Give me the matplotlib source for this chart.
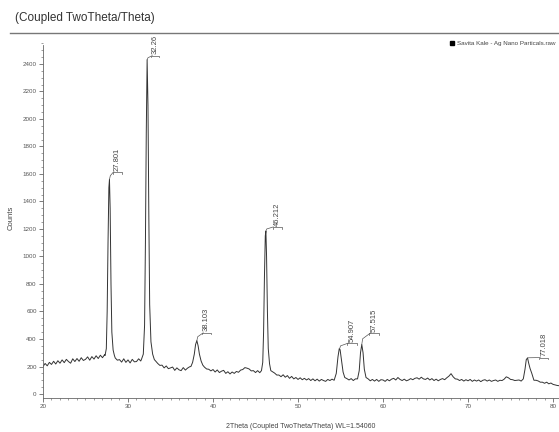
import numpy as np
import matplotlib
matplotlib.use("Agg")
import matplotlib.pyplot as plt
from matplotlib.lines import Line2D
from matplotlib.ticker import MultipleLocator

plt.rcParams['font.family'] = ['Liberation Sans', 'DejaVu Sans']

# Scan: 2theta from 20 deg in 0.25 deg steps, background counts
scan_start = 20.0
scan_step = 0.25
background = [
    200, 222, 205, 230,   # 20
    215, 238, 218, 242,   # 21
    224, 248, 228, 252,   # 22
    236, 224, 256, 236,   # 23
    258, 238, 264, 244,   # 24
    252, 270, 246, 272,   # 25
    254, 278, 258, 282,   # 26
    264, 286, 285, 290,   # 27
    285, 275, 262, 246,   # 28
    250, 232, 256, 230,   # 29
    248, 226, 252, 234,   # 30
    236, 256, 240, 250,   # 31
    255, 260, 260, 255,   # 32
    250, 240, 222, 208,   # 33
    210, 190, 204, 184,   # 34
    190, 196, 172, 190,   # 35
    176, 170, 192, 174,   # 36
    188, 198, 200, 210,   # 37
    215, 210, 205, 200,   # 38
    195, 182, 180, 168,   # 39
    178, 160, 175, 156,   # 40
    166, 172, 150, 162,   # 41
    146, 160, 150, 164,   # 42
    158, 174, 178, 192,   # 43
    188, 182, 168, 170,   # 44
    156, 170, 155, 165,   # 45
    170, 170, 168, 165,   # 46
    162, 152, 138, 138,   # 47
    126, 140, 122, 134,   # 48
    114, 128, 110, 120,   # 49
    106, 118, 104, 114,   # 50
    102, 112, 98, 110,    # 51
    96, 108, 94, 106,     # 52
    98, 92, 106, 98,      # 53
    108, 100, 105, 108,   # 54
    110, 112, 115, 112,   # 55
    102, 112, 98, 110,    # 56
    110, 112, 112, 110,   # 57
    112, 110, 96, 106,    # 58
    94, 106, 92, 104,     # 59
    102, 92, 106, 96,     # 60
    108, 114, 102, 120,   # 61
    106, 98, 108, 96,     # 62
    102, 112, 104, 114,   # 63
    118, 108, 122, 110,   # 64
    106, 116, 102, 112,   # 65
    98, 108, 96, 106,     # 66
    112, 104, 118, 130,   # 67
    148, 125, 110, 108,   # 68
    98, 106, 94, 104,     # 69
    96, 106, 92, 102,     # 70
    94, 102, 90, 100,     # 71
    104, 94, 102, 92,     # 72
    98, 102, 92, 100,     # 73
    98, 108, 125, 118,    # 74
    106, 104, 98, 100,    # 75
    102, 94, 100, 105,    # 76
    105, 105, 102, 100,   # 77
    100, 95, 86, 86,      # 78
    78, 86, 74, 80,       # 79
    70, 66, 62, 60,       # 80
]

# Reflections: (window start, window end), profile points
peak_windows = [(27.3, 28.4), (31.6, 33.1), (37.4, 39.0), (45.7, 46.8),
                (54.3, 55.5), (57.0, 58.0), (76.5, 77.7)]
peak_2theta = [
    27.3, 27.45, 27.55, 27.65, 27.75, 27.82, 27.9, 28.0, 28.1, 28.25, 28.4,
    31.6, 31.8, 31.95, 32.05, 32.15, 32.25, 32.35, 32.45, 32.55, 32.7, 32.9, 33.1,
    37.4, 37.6, 37.8, 37.95, 38.1, 38.25, 38.4, 38.6, 38.8, 39.0,
    45.7, 45.85, 45.95, 46.05, 46.15, 46.22, 46.3, 46.4, 46.5, 46.65, 46.8,
    54.3, 54.5, 54.7, 54.85, 54.95, 55.1, 55.3, 55.5,
    57.0, 57.2, 57.35, 57.5, 57.65, 57.8, 58.0,
    76.5, 76.7, 76.85, 77.0, 77.15, 77.3, 77.5, 77.7,
]
peak_counts = [
    280, 330, 600, 1100, 1500, 1560, 1350, 800, 450, 320, 280,
    255, 290, 500, 1100, 1900, 2430, 2100, 1300, 650, 380, 290, 250,
    200, 230, 290, 360, 388, 350, 290, 240, 210, 195,
    170, 230, 450, 850, 1150, 1185, 1000, 600, 330, 220, 170,
    110, 150, 270, 330, 322, 250, 160, 120,
    110, 170, 300, 360, 300, 180, 120,
    110, 180, 250, 262, 220, 185, 150, 110,
]

# Peak annotations: peak position, label, bracket height (counts), bracket start/end (deg)
label_pos = [27.82, 32.25, 38.1, 46.22, 54.9, 57.5, 77.0]
label_peak = [1560, 2430, 388, 1185, 330, 360, 262]
label_text = ["27.801", "32.261", "38.103", "46.212", "54.907", "57.515", "77.018"]
label_y = [1615, 2460, 445, 1215, 370, 443, 265]
label_x0 = [28.2, 32.75, 38.75, 47.0, 55.8, 58.4, 78.4]
label_x1 = [29.3, 33.7, 39.75, 48.1, 56.9, 59.5, 79.4]

two_theta = scan_start + scan_step * np.arange(len(background))
counts = np.array(background, dtype=float)
keep = np.ones(len(two_theta), dtype=bool)
for a, b in peak_windows:
    keep &= ~((two_theta >= a) & (two_theta <= b))
x = np.concatenate([two_theta[keep], peak_2theta])
y = np.concatenate([counts[keep], peak_counts])
order = np.argsort(x)
x, y = x[order], y[order]

fig = plt.figure(figsize=(5.59, 4.32), dpi=100)
ax = fig.add_axes([0.0769, 0.0787, 0.9231, 0.8357])

ax.plot(x, y, color='#333333', lw=0.7, label='Savita Kale - Ag Nano Particals.raw')

gray = '#555555'
for px, py, txt, by, bx0, bx1 in zip(label_pos, label_peak, label_text, label_y, label_x0, label_x1):
    ax.plot([px, px + 0.1, bx0 + 0.1], [py, py + (by - py) * 0.5, by], color=gray, lw=0.5, clip_on=True)
    ax.plot([bx0, bx0, bx1, bx1], [by - 12, by, by, by - 12], color=gray, lw=0.5, clip_on=True)
    ax.text((bx0 + bx1) / 2, by + 10, txt, rotation=90, ha='center', va='bottom',
            fontsize=5.5, color='#444444', clip_on=True)

ax.set_xlim(20, 80.7)
ax.set_ylim(-29, 2596)
ax.xaxis.set_major_locator(MultipleLocator(10))
ax.xaxis.set_minor_locator(MultipleLocator(1))
ax.yaxis.set_major_locator(MultipleLocator(200))
ax.yaxis.set_minor_locator(MultipleLocator(50))
ax.spines['top'].set_visible(False)
ax.spines['right'].set_visible(False)
ax.spines['left'].set_bounds(-29, 2540)
for s in ('left', 'bottom'):
    ax.spines[s].set_color('#666666')
    ax.spines[s].set_linewidth(0.6)
ax.tick_params(which='major', length=3, width=0.6, color='#666666', labelsize=4.5,
               labelcolor='#555555', pad=1.5)
ax.tick_params(which='minor', length=1.5, width=0.5, color='#777777')

ax.set_xlabel('2Theta (Coupled TwoTheta/Theta) WL=1.54060', fontsize=5, color='#444444', labelpad=10)
ax.set_ylabel('Counts', fontsize=5.5, color='#444444', labelpad=6)

leg = ax.legend(handles=[Line2D([], [], marker='s', ls='none', color='black', markersize=3)],
                labels=['Savita Kale - Ag Nano Particals.raw'], loc='upper right',
                bbox_to_anchor=(1.0, 1.0), frameon=False, fontsize=4.5, handlelength=0.8,
                handletextpad=0.4, borderaxespad=0.2, labelcolor='#444444')

fig.text(0.027, 0.958, '(Coupled TwoTheta/Theta)', fontsize=8.5, color='#333333', va='center', ha='left')
fig.add_artist(Line2D([0.018, 1.0], [0.9236, 0.9236], transform=fig.transFigure, color='#777777', lw=1.0))

fig.savefig('out.png', dpi=100)
